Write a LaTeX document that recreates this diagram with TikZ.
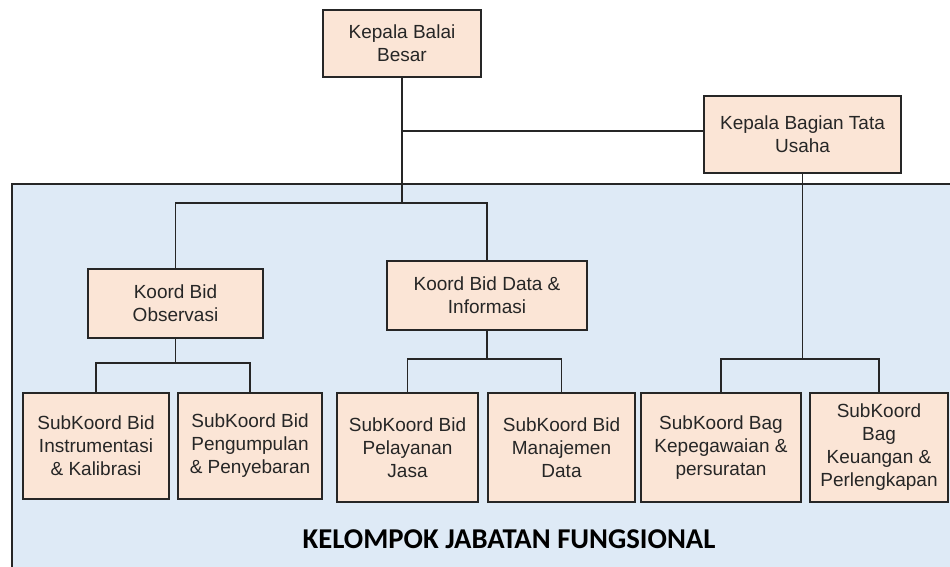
\documentclass[tikz,border=0pt]{standalone}
\usepackage{fontspec}
\setmainfont{Liberation Sans}
\newfontfamily\titlefont{Carlito}
\definecolor{boxfill}{HTML}{FBE5D6}
\definecolor{bgblue}{HTML}{DEEAF6}
\definecolor{ink}{HTML}{262626}
\tikzset{
  unit/.style={draw=ink, line width=1.7pt, fill=boxfill, align=center, inner sep=2pt,
    font=\fontsize{19}{23}\selectfont, text=ink},
  link/.style={draw=ink, line width=1.8pt}
}
\begin{document}
\begin{tikzpicture}[x=1pt, y=-1pt]
  \useasboundingbox (0,0) rectangle (950,567);
  % area kelompok jabatan fungsional
  \fill[bgblue] (12,184) rectangle (950,567);
  \draw[ink, line width=2.2pt] (950,184) -- (12,184) -- (12,567);
  \node[font=\titlefont\bfseries\fontsize{28.7}{32}\selectfont, text=black] (kjf) at (509,539) {KELOMPOK JABATAN FUNGSIONAL};

  \node[unit, minimum width=158pt, minimum height=67pt] (top) at (402,43.5) {Kepala Balai\\Besar};
  \node[unit, minimum width=197pt, minimum height=77pt] (tu) at (802.5,134.5) {Kepala Bagian Tata\\Usaha};
  \node[unit, minimum width=175pt, minimum height=69pt] (obs) at (175.5,303.5) {Koord Bid\\Observasi};
  \node[unit, minimum width=200pt, minimum height=69pt] (data) at (487,295.5) {Koord Bid Data \&\\Informasi};

  \node[unit, minimum width=146pt, minimum height=106pt] (instr) at (96,446) {SubKoord Bid\\Instrumentasi\\\& Kalibrasi};
  \node[unit, minimum width=144pt, minimum height=106pt] (pengum) at (250,446) {SubKoord Bid\\Pengumpulan\\\& Penyebaran};
  \node[unit, minimum width=141pt, minimum height=109pt] (pel) at (407.5,447.5) {SubKoord Bid\\Pelayanan\\Jasa};
  \node[unit, minimum width=147pt, minimum height=109pt] (man) at (561.5,447.5) {SubKoord Bid\\Manajemen\\Data};
  \node[unit, minimum width=160pt, minimum height=109pt] (kep) at (721,447.5) {SubKoord Bag\\Kepegawaian \&\\persuratan};
  \node[unit, minimum width=138pt, minimum height=109pt] (keu) at (879,447.5) {SubKoord\\Bag\\Keuangan \&\\Perlengkapan};

  % titik cabang
  \coordinate (jtop) at (402,203);
  \coordinate (jobs) at (175.5,363);
  \coordinate (jdata) at (487,359);
  \coordinate (jtu) at (802.5,359);

  \draw[link] (top) -- (jtop);
  \draw[link] (top.south |- 0,131) -- (tu.west |- 0,131);
  \foreach \c in {obs,data} \draw[link] (jtop) -| (\c);
  \draw[link] (obs) -- (jobs);
  \foreach \c in {instr,pengum} \draw[link] (jobs) -| (\c);
  \draw[link] (data) -- (jdata);
  \foreach \c in {pel,man} \draw[link] (jdata) -| (\c);
  \draw[link] (tu) -- (jtu);
  \foreach \c in {kep,keu} \draw[link] (jtu) -| (\c);
\end{tikzpicture}
\end{document}
